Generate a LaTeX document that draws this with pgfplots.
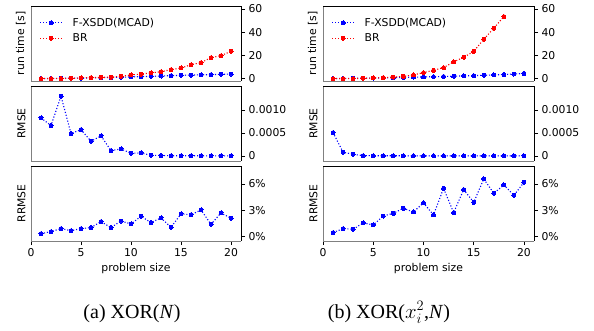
\documentclass[border=0pt]{standalone}
\usepackage{pgfplots}
\pgfplotsset{compat=1.18}
\usepackage{fontspec}
\setmainfont{DejaVu Sans}
\newfontfamily\capfont{Liberation Serif}
\definecolor{mblue}{RGB}{0,0,255}
\definecolor{mred}{RGB}{255,0,0}
\definecolor{spinegray}{RGB}{128,128,128}
\pgfplotsset{
  panel/.style={
    scale only axis, width=210pt, height=75pt,
    xmin=0, xmax=21,
    axis line style={draw=none},
    clip=false,
    tick align=outside,
    major tick length=4pt,
    tick style={black, line width=0.7pt},
    ytick pos=right,
    font=\fontsize{10.8}{13}\selectfont,
    /pgf/number format/assume math mode=true,
    scaled y ticks=false,
    every axis y label/.style={at={(axis description cs:-0.025,0.5)}, rotate=90, anchor=south, inner sep=0pt},
    legend style={draw=none, fill=none, at={(rel axis cs:0.04,0.87)}, anchor=north west,
      font=\fontsize{10.8}{13}\selectfont, row sep=2pt, inner sep=0pt},
    legend cell align=left,
    legend image code/.code={\draw[mark repeat=2,mark phase=2,#1] plot coordinates {(0pt,0pt) (11pt,0pt) (22pt,0pt)}; \path (30pt,0pt);},
    execute at end axis={
      \draw[spinegray, line width=0.8pt] (rel axis cs:0,1) -- (rel axis cs:0,0) -- (rel axis cs:1,0);
      \draw[black, line width=0.8pt] (rel axis cs:0,1) -- (rel axis cs:1,1) -- (rel axis cs:1,0);
    },
  },
  notx/.style={xtick=\empty},
  botx/.style={xtick={0,5,10,15,20}, xtick pos=bottom, xlabel={problem size}},
  toppan/.style={ymin=-2, ymax=62.5, ytick={0,20,40,60}, ylabel={run time [s]}},
  midpan/.style={ymin=-0.00011, ymax=0.00152, ytick={0,0.0005,0.001}, yticklabels={0,0.0005,0.0010}, ylabel={RMSE}},
  botpan/.style={ymin=-0.5, ymax=8.05, ytick={0,3,6}, yticklabels={0\%,3\%,6\%}, ylabel={RRMSE}},
  bser/.style={mblue, line width=1.1pt, dash pattern=on 1.1pt off 1.9pt, mark=*, mark size=2pt, mark options={solid, fill=mblue, draw=mblue, line width=0pt}},
  rser/.style={mred, line width=1.1pt, dash pattern=on 1.1pt off 1.9pt, mark=*, mark size=2pt, mark options={solid, fill=mred, draw=mred, line width=0pt}},
}
\begin{document}
\begin{tikzpicture}
\useasboundingbox (0pt,0pt) rectangle (594pt,330pt);
% ---------- left column ----------
\begin{axis}[panel, notx, toppan, at={(31pt,249pt)}, anchor=south west]
\addplot[bser] coordinates {(1,0.1)(2,0.2)(3,0.3)(4,0.4)(5,0.5)(6,0.6)(7,0.8)(8,1.0)(9,1.2)(10,1.5)(11,1.8)(12,2.0)(13,2.3)(14,2.6)(15,2.9)(16,3.1)(17,3.3)(18,3.5)(19,3.7)(20,4.0)};
\addlegendentry{F-XSDD(MCAD)}
\addplot[rser] coordinates {(1,0)(2,0)(3,0.1)(4,0.3)(5,0.6)(6,0.9)(7,1.1)(8,1.4)(9,2.0)(10,3.2)(11,4.0)(12,4.9)(13,6.0)(14,7.8)(15,9.2)(16,12.0)(17,13.8)(18,18.1)(19,19.8)(20,23.5)};
\addlegendentry{BR}
\end{axis}
\begin{axis}[panel, notx, midpan, at={(31pt,169pt)}, anchor=south west]
\addplot[bser] coordinates {(1,0.000826)(2,0.00066)(3,0.0013)(4,0.000486)(5,0.000572)(6,0.000319)(7,0.000435)(8,0.000116)(9,0.000152)(10,0.000058)(11,0.000065)(12,0.000015)(13,0.00001)(14,0.000005)(15,0.000004)(16,0.000004)(17,0.000003)(18,0.000003)(19,0.000003)(20,0.000003)};
\end{axis}
\begin{axis}[panel, botx, botpan, at={(31pt,89pt)}, anchor=south west]
\addplot[bser] coordinates {(1,0.34)(2,0.57)(3,0.91)(4,0.68)(5,0.91)(6,1.03)(7,1.71)(8,1.03)(9,1.78)(10,1.44)(11,2.32)(12,1.6)(13,2.13)(14,1.06)(15,2.58)(16,2.5)(17,3.04)(18,1.4)(19,2.7)(20,2.09)};
\end{axis}
% ---------- right column ----------
\begin{axis}[panel, notx, toppan, width=211pt, at={(323pt,249pt)}, anchor=south west]
\addplot[bser] coordinates {(1,0.1)(2,0.2)(3,0.3)(4,0.4)(5,0.5)(6,0.7)(7,0.9)(8,1.1)(9,1.3)(10,1.5)(11,1.7)(12,1.9)(13,2.1)(14,2.4)(15,2.6)(16,2.9)(17,3.2)(18,3.6)(19,4.0)(20,4.5)};
\addlegendentry{F-XSDD(MCAD)}
\addplot[rser] coordinates {(1,0)(2,0)(3,0.1)(4,0.3)(5,0.6)(6,0.9)(7,1.4)(8,2.0)(9,3.2)(10,5.2)(11,7.2)(12,9.5)(13,14.4)(14,18.4)(15,23.5)(16,33.9)(17,43.4)(18,53.4)};
\addlegendentry{BR}
\end{axis}
\begin{axis}[panel, notx, midpan, width=211pt, at={(323pt,169pt)}, anchor=south west]
\addplot[bser] coordinates {(1,0.000507)(2,0.00008)(3,0.000036)(4,0.000006)(5,0.000005)(6,0.000004)(7,0.000004)(8,0.000003)(9,0.000003)(10,0.000003)(11,0.000003)(12,0.000003)(13,0.000003)(14,0.000003)(15,0.000003)(16,0.000003)(17,0.000003)(18,0.000003)(19,0.000003)(20,0.000003)};
\end{axis}
\begin{axis}[panel, botx, botpan, width=211pt, at={(323pt,89pt)}, anchor=south west]
\addplot[bser] coordinates {(1,0.46)(2,0.91)(3,0.84)(4,1.56)(5,1.33)(6,2.35)(7,2.66)(8,3.23)(9,2.81)(10,3.84)(11,2.47)(12,5.51)(13,2.73)(14,5.36)(15,3.91)(16,6.57)(17,4.94)(18,5.89)(19,4.71)(20,6.19)};
\end{axis}
% ---------- captions ----------
\node[anchor=base, inner sep=0pt] at (132pt,12pt) {\capfont\fontsize{20}{24}\selectfont (a) XOR(\textit{N})};
\node[anchor=base, inner sep=0pt] at (389pt,12pt) {\capfont\fontsize{20}{24}\selectfont (b) XOR($x_i^2$,\textit{N})};
\end{tikzpicture}
\end{document}
